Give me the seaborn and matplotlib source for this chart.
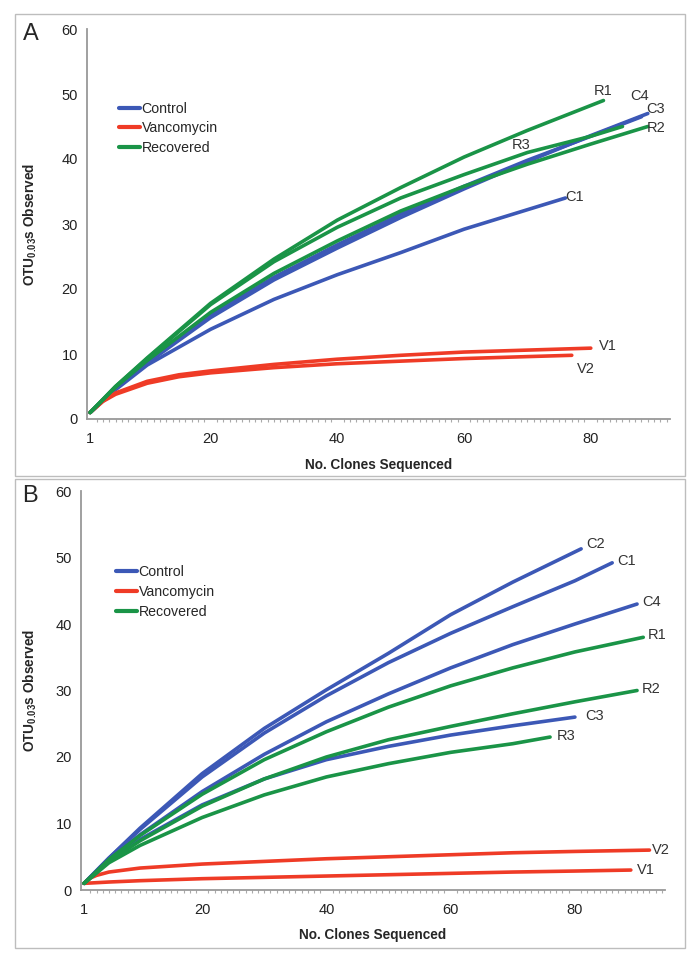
import pandas as pd
import matplotlib
matplotlib.use("Agg")
import matplotlib.pyplot as plt
import seaborn as sns
from matplotlib.patches import Rectangle

# ---- panel A: rarefaction curves (clones sequenced, OTUs observed) ----
A_C1 = ([1, 5, 10, 20, 30, 40, 50, 60, 70, 76], [1, 4.5, 8.3, 13.8, 18.4, 22.2, 25.6, 29.2, 32.2, 34])
A_C3 = ([1, 5, 10, 20, 30, 40, 50, 60, 70, 80, 89], [1, 4.7, 8.6, 15.6, 21.4, 26.3, 31.0, 35.4, 39.6, 43.6, 47])
A_C4 = ([1, 5, 10, 20, 30, 40, 50, 60, 70, 80, 88], [1, 4.8, 8.8, 16.0, 21.8, 26.8, 31.5, 35.8, 39.8, 43.5, 46.5])
A_V1 = ([1, 3, 5, 10, 15, 20, 30, 40, 50, 60, 70, 80], [1, 2.8, 4.0, 5.8, 6.8, 7.4, 8.4, 9.2, 9.8, 10.3, 10.6, 10.9])
A_V2 = ([1, 3, 5, 10, 15, 20, 30, 40, 50, 60, 70, 77], [1, 2.7, 3.8, 5.5, 6.5, 7.1, 7.9, 8.5, 8.9, 9.3, 9.6, 9.8])
A_R1 = ([1, 5, 10, 20, 30, 40, 50, 60, 70, 82], [1, 5.0, 9.4, 17.8, 24.6, 30.6, 35.6, 40.3, 44.4, 49])
A_R2 = ([1, 5, 10, 20, 30, 40, 50, 60, 70, 80, 89], [1, 4.9, 9.0, 16.4, 22.4, 27.4, 32.0, 35.8, 39.2, 42.3, 45])
A_R3 = ([1, 5, 10, 20, 30, 40, 50, 60, 70, 80, 85], [1, 5.0, 9.3, 17.6, 24.2, 29.5, 34.0, 37.6, 41.0, 43.5, 45])

# ---- panel B ----
B_C1 = ([1, 5, 10, 20, 30, 40, 50, 60, 70, 80, 86], [1, 4.8, 9.1, 17.0, 23.6, 29.2, 34.2, 38.6, 42.6, 46.5, 49.2])
B_C2 = ([1, 5, 10, 20, 30, 40, 50, 60, 70, 81], [1, 4.8, 9.3, 17.5, 24.3, 30.1, 35.6, 41.4, 46.3, 51.3])
B_C3 = ([1, 5, 10, 20, 30, 40, 50, 60, 70, 80], [1, 4.4, 7.6, 12.8, 16.7, 19.6, 21.6, 23.3, 24.7, 26])
B_C4 = ([1, 5, 10, 20, 30, 40, 50, 60, 70, 80, 90], [1, 4.6, 8.3, 14.8, 20.4, 25.3, 29.5, 33.4, 36.9, 40.0, 43])
B_V1 = ([1, 5, 10, 20, 30, 40, 50, 60, 70, 80, 89], [1, 1.2, 1.4, 1.7, 1.9, 2.1, 2.3, 2.5, 2.7, 2.85, 3])
B_V2 = ([1, 2, 3, 5, 10, 20, 30, 40, 50, 60, 70, 80, 92], [1, 1.8, 2.2, 2.7, 3.3, 3.9, 4.3, 4.7, 5.0, 5.3, 5.6, 5.8, 6.0])
B_R1 = ([1, 5, 10, 20, 30, 40, 50, 60, 70, 80, 91], [1, 4.6, 8.2, 14.4, 19.6, 23.8, 27.5, 30.7, 33.4, 35.8, 38])
B_R2 = ([1, 5, 10, 20, 30, 40, 50, 60, 70, 80, 90], [1, 4.3, 7.4, 12.6, 16.7, 20.0, 22.6, 24.6, 26.5, 28.3, 30])
B_R3 = ([1, 5, 10, 20, 30, 40, 50, 60, 70, 76], [1, 4.1, 6.7, 10.9, 14.3, 17.0, 19.0, 20.7, 22.0, 23])

groups = ["Control", "Vancomycin", "Recovered"]
colors = {"Control": "#3c58b6", "Vancomycin": "#ef3b26", "Recovered": "#1a9447"}

panel_a = {"C1": A_C1, "C3": A_C3, "C4": A_C4, "V1": A_V1, "V2": A_V2,
           "R1": A_R1, "R2": A_R2, "R3": A_R3}
panel_b = {"C1": B_C1, "C2": B_C2, "C3": B_C3, "C4": B_C4, "V1": B_V1, "V2": B_V2,
           "R1": B_R1, "R2": B_R2, "R3": B_R3}

# curve end labels (x, y in data units)
labels_a = {"R1": (80.5, 50.5), "C4": (86.3, 49.7), "C3": (88.8, 47.7), "R2": (88.8, 44.8),
            "R3": (67.5, 42.2), "C1": (76, 34.2), "V1": (81.3, 11.2), "V2": (77.8, 7.7)}
labels_b = {"C2": (81.8, 52), "C1": (86.8, 49.5), "C4": (90.8, 43.3), "R1": (91.8, 38.3),
            "R2": (90.8, 30.2), "C3": (81.6, 26.2), "R3": (77.1, 23.2), "V2": (92.4, 6),
            "V1": (90, 3)}

group_of = {"C": "Control", "V": "Vancomycin", "R": "Recovered"}


def to_frame(panel):
    rows = []
    for name, (xs, ys) in panel.items():
        for x, y in zip(xs, ys):
            rows.append({"sample": name, "group": group_of[name[0]], "clones": x, "otus": y})
    return pd.DataFrame(rows)


sns.set_style("white")
plt.rcParams["font.family"] = ["Liberation Sans", "DejaVu Sans"]
plt.rcParams["mathtext.fontset"] = "custom"
plt.rcParams["mathtext.rm"] = "Liberation Sans"
plt.rcParams["mathtext.bf"] = "Liberation Sans:bold"

fig = plt.figure(figsize=(6.95, 9.59), dpi=100)

# panel frames
fig.patches.append(Rectangle((15 / 695, (959 - 476) / 959), 670 / 695, 462 / 959,
                             transform=fig.transFigure, fill=False, ec="#bdbdbd", lw=1))
fig.patches.append(Rectangle((15 / 695, (959 - 948) / 959), 670 / 695, 469 / 959,
                             transform=fig.transFigure, fill=False, ec="#bdbdbd", lw=1))

ax_a = fig.add_axes([87 / 695, (959 - 419) / 959, 583 / 695, 390 / 959])
ax_b = fig.add_axes([81 / 695, (959 - 890) / 959, 584 / 695, 399 / 959])

# ax, data, labels, xlim, n categories, letter, legend anchor, xlabel y, ylabel x, letter x
setups = [
    (ax_a, panel_a, labels_a, (0.5, 92.5), 92, "A", (0.045, 0.828), -0.1, -0.082, -0.11),
    (ax_b, panel_b, labels_b, (0.5, 94.5), 94, "B", (0.05, 0.828), -0.095, -0.072, -0.1),
]

for ax, panel, labels, xlim, ncat, letter, leg_anchor, xlab_y, ylab_x, let_x in setups:
    df = to_frame(panel)
    sns.lineplot(data=df, x="clones", y="otus", hue="group", hue_order=groups,
                 units="sample", estimator=None, sort=False, palette=colors,
                 lw=2.6, solid_capstyle="round", solid_joinstyle="round", ax=ax)

    for name, (lx, ly) in labels.items():
        ax.text(lx, ly, name, fontsize=10.5, color="#333333", va="center", ha="left")

    ax.set_xlim(*xlim)
    ax.set_ylim(0, 60)
    ax.set_yticks(range(0, 61, 10))
    ax.set_xticks([1, 20, 40, 60, 80])
    ax.set_xticks(range(1, ncat + 1), minor=True)
    for side in ["top", "right"]:
        ax.spines[side].set_visible(False)
    for side in ["left", "bottom"]:
        ax.spines[side].set_color("#999999")
        ax.spines[side].set_linewidth(1.3)
    ax.tick_params(axis="both", which="major", direction="out", length=3.5, width=1,
                   color="#999999", labelsize=10.5, labelcolor="#222222", pad=3)
    ax.tick_params(axis="x", which="minor", direction="out", length=2.5, width=0.8,
                   color="#aaaaaa", bottom=True)
    ax.tick_params(axis="x", which="major", pad=6)

    ax.set_xlabel("No. Clones Sequenced", fontsize=9.8, fontweight="bold")
    ax.set_ylabel(r"OTU$_{\mathbf{0.03}}$s Observed", fontsize=9.8, fontweight="bold")
    ax.xaxis.set_label_coords(0.5, xlab_y)
    ax.yaxis.set_label_coords(ylab_x, 0.5)

    ax.legend(loc="upper left", bbox_to_anchor=leg_anchor, frameon=False,
              fontsize=10.2, handlelength=1.5, handletextpad=0.1, labelspacing=0.4,
              borderaxespad=0)
    for line in ax.get_legend().get_lines():
        line.set_linewidth(3)

    ax.text(let_x, 1.015, letter, transform=ax.transAxes, fontsize=17, va="top", ha="left")

fig.savefig("out.png", dpi=100)
